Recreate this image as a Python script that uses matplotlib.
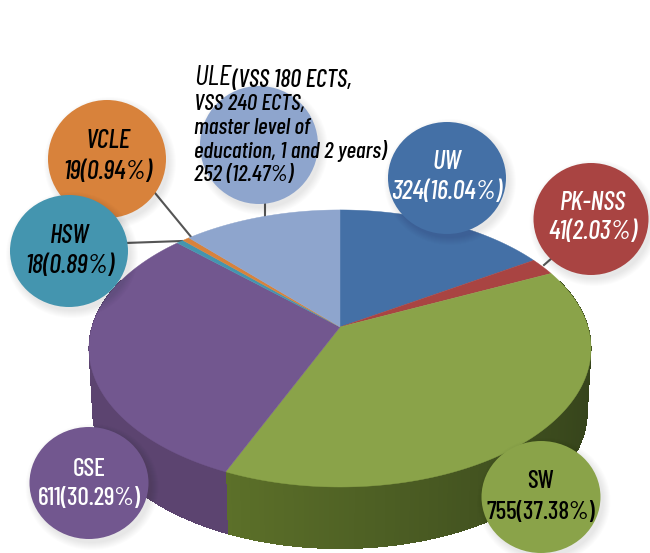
import numpy as np
import matplotlib
matplotlib.use("Agg")
import matplotlib.pyplot as plt
from matplotlib.patches import Ellipse

# slice shares as they look in the drawing (percent), start at 12 o'clock, clockwise
names = ['UW', 'PK-NSS', 'SW', 'GSE', 'HSW', 'VCLE', 'ULE']
shares = [16.04, 2.03, 38.4, 30.6, 0.53, 0.53, 11.87]
counts = ['324(16.04%)', '41(2.03%)', '755(37.38%)', '611(30.29%)', '18(0.89%)', '19(0.94%)']
ule_lines = ['(VSS 180 ECTS,', 'VSS 240 ECTS,', 'master level of', 'education, 1 and 2 years)', '252 (12.47%)']
top_colors = ['#4470a6', '#a94442', '#8aa349', '#72578f', '#4495af', '#d8823b', '#8ea5cd']
wall_left = ['#2f4d73', '#742e2d', '#5c7029', '#5c4470', '#2f6778', '#945926', '#62718c']
wall_right = ['#2f4d73', '#742e2d', '#35431b', '#5c4470', '#2f6778', '#945926', '#62718c']

FONT = ['Barlow Condensed', 'Liberation Sans', 'DejaVu Sans']

# pie position in pixels
cx, cy = 340, 327
rx, ry = 248, 135.2
k = 0.155
depth = 64


def top_xy(t, scale=1.0, drop=0):
    den = 1 + k * np.cos(t)
    return cx + scale * rx * np.sin(t) / den, cy + drop - scale * ry * np.cos(t) / den


def mix(c1, c2, f):
    a = np.array(matplotlib.colors.to_rgb(c1))
    b = np.array(matplotlib.colors.to_rgb(c2))
    return tuple(a + (b - a) * f)


def bubble(ax, x, y, w, h, color, z):
    # soft shadow first
    for i in range(8):
        ax.add_patch(Ellipse((x + 3, y + 4), w + 14 - 2 * i, h + 14 - 2 * i, color='k',
                             alpha=0.012, lw=0, zorder=z))
    ax.add_patch(Ellipse((x, y), w, h, color=color, lw=0, zorder=z + 0.1))


fig = plt.figure(figsize=(6.5, 5.53), dpi=100)
ax = fig.add_axes([0, 0, 1, 1])
ax.set_xlim(0, 650)
ax.set_ylim(553, 0)
ax.axis('off')

edges = np.radians(np.concatenate([[0], np.cumsum(shares)]) * 3.6)
edges[-1] = 2 * np.pi

# wall
for i in range(len(shares)):
    ts = np.linspace(edges[i], edges[i + 1], max(int(np.degrees(edges[i + 1] - edges[i])), 1) + 1)
    for a, b in zip(ts[:-1], ts[1:]):
        if np.cos(a) > 0.35 and np.cos(b) > 0.35:
            continue
        x1, y1 = top_xy(a)
        x2, y2 = top_xy(b)
        x3, y3 = top_xy(b, 0.985, depth)
        x4, y4 = top_xy(a, 0.985, depth)
        # darker towards the right
        end = np.sin(edges[i + 1])
        f = np.clip((np.sin((a + b) / 2) - end) / (1 - end), 0, 1)
        ax.fill([x1, x2, x3, x4], [y1, y2, y3, y4], color=mix(wall_left[i], wall_right[i], f),
                lw=0, antialiased=False, zorder=2)

# top face
for i in range(len(shares)):
    ts = np.linspace(edges[i], edges[i + 1], 200)
    xs, ys = top_xy(ts)
    ax.fill(np.r_[cx, xs], np.r_[cy, ys], color=top_colors[i], lw=0.3, zorder=3)

# leaders
for xs, ys in [([265, 265], [200, 216]), ([155, 192], [193, 238]),
               ([125, 182], [243, 241]), ([544, 552], [265, 258])]:
    ax.plot(xs, ys, color='#555555', lw=1.5, zorder=2.5)

bubble(ax, 259, 145, 118, 118, top_colors[6], 4)
bubble(ax, 107, 159, 118, 118, top_colors[5], 5)
bubble(ax, 69, 251, 118, 112, top_colors[4], 6)
bubble(ax, 447, 178, 118, 112, top_colors[0], 7)
bubble(ax, 591, 219, 115, 112, top_colors[1], 7)
bubble(ax, 89, 483, 119, 112, top_colors[3], 7)
bubble(ax, 541, 497, 119, 112, top_colors[2], 7)

label_pos = [(447, 162, 192, 'white', 'italic'), (593, 203, 232, 'white', 'italic'),
             (541, 481, 512, 'black', 'normal'), (89, 469, 499, 'white', 'normal'),
             (70, 236, 266, 'black', 'italic'), (108, 141, 172, 'black', 'italic')]
for name, cnt, (x, y1, y2, col, sty) in zip(names, counts, label_pos):
    fs = 19 if sty == 'italic' else 18
    ax.text(x, y1, name, ha='center', va='center', color=col, style=sty, family=FONT,
            fontsize=fs, weight='medium', zorder=9)
    ax.text(x, y2, cnt, ha='center', va='center', color=col, style=sty, family=FONT,
            fontsize=fs, weight='medium', zorder=9)

ax.text(194, 78, names[6], ha='left', va='center', style='italic', family=FONT, fontsize=21, zorder=9)
ax.text(232, 80, ule_lines[0], ha='left', va='center', style='italic', family=FONT,
        fontsize=17.6, weight='medium', zorder=9)
for txt, y in zip(ule_lines[1:], [104, 128, 151, 175]):
    ax.text(194, y, txt, ha='left', va='center', style='italic', family=FONT, fontsize=16.6,
            weight='medium', zorder=9)

fig.savefig('out.png', dpi=100)
